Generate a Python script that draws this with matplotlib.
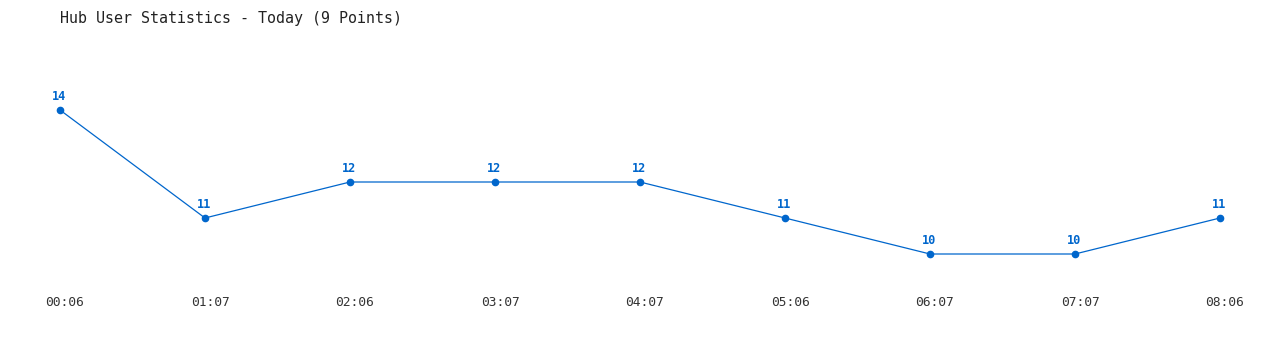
#!/usr/bin/env python3

import matplotlib
matplotlib.use("Agg")
import matplotlib.pyplot as plt
from matplotlib.transforms import ScaledTranslation

times = ["00:06", "01:07", "02:06", "03:07", "04:07", "05:06", "06:07", "07:07", "08:06"]
users = [14, 11, 12, 12, 12, 11, 10, 10, 11]

BLUE = "#0066cc"
MONO = "DejaVu Sans Mono"

fig = plt.figure(figsize=(12.8, 3.5), dpi=100)
# axes spans y = 40..290 px from the top, full width
ax = fig.add_axes([0, 60 / 350, 1, 250 / 350])

x = list(range(len(users)))
ax.plot(x, users, color=BLUE, linewidth=0.9, marker="o", markersize=4.5)

for xi, v in zip(x, users):
    ax.annotate(str(v), (xi, v), xytext=(-1, 5), textcoords="offset points",
                ha="center", va="bottom", color=BLUE, fontsize=8.6,
                fontweight="bold", family=MONO)

# 145 px per step, first point at 60 px
ax.set_xlim(-60 / 145, 8 + 60 / 145)
ax.set_ylim(9, 14 + 70 / 36)

ax.set_xticks(x)
ax.set_xticklabels(times, family=MONO, fontsize=9.3, color="#333333")
ax.tick_params(axis="x", length=0, pad=4.5)
offset = ScaledTranslation(5 / 100, 0, fig.dpi_scale_trans)
for lbl in ax.get_xticklabels():
    lbl.set_transform(lbl.get_transform() + offset)
ax.set_yticks([])
for s in ax.spines.values():
    s.set_visible(False)

fig.text(60 / 1280, 1 - 18 / 350, "Hub User Statistics - Today (9 Points)",
         family=MONO, fontsize=10.8, color="#222222", ha="left", va="center")

fig.savefig("out.png", dpi=100)
